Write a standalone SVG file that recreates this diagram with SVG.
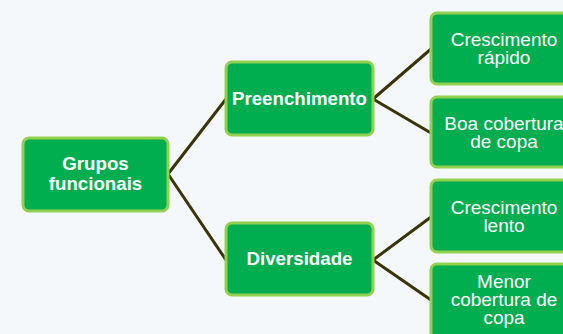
<svg xmlns="http://www.w3.org/2000/svg" width="563" height="334" viewBox="0 0 563 334">
<defs>
<style>
.node rect{fill:#00AD4F;stroke:#92D050;stroke-width:3}
.conn line{stroke:#3A3408;stroke-width:3;stroke-linecap:round}
text{font-family:"Liberation Sans",Arial,sans-serif;fill:#FFFFFF;text-anchor:middle}
.b{font-weight:bold;font-size:18.7px}
.r{font-size:19px}
</style>
</defs>
<rect x="0" y="0" width="563" height="334" fill="#F4F8FB"/>
<g class="conn" id="connectors">
<line x1="168" y1="174" x2="226" y2="99"/>
<line x1="168" y1="174" x2="226" y2="260"/>
<line x1="373" y1="99" x2="431" y2="49"/>
<line x1="373" y1="99" x2="431" y2="133"/>
<line x1="373" y1="260" x2="431" y2="217"/>
<line x1="373" y1="260" x2="431" y2="300"/>
</g>
<g class="node" id="grupos">
<rect x="23" y="138" width="145" height="73" rx="6"/>
<text class="b" x="95.5" y="170">Grupos</text>
<text class="b" x="95.5" y="190">funcionais</text>
</g>
<g class="node" id="preenchimento">
<rect x="226" y="62" width="147" height="73" rx="6"/>
<text class="b" x="299.5" y="105">Preenchimento</text>
</g>
<g class="node" id="diversidade">
<rect x="226" y="223" width="147" height="72" rx="6"/>
<text class="b" x="299.5" y="265">Diversidade</text>
</g>
<g class="node" id="crescimento-rapido">
<rect x="431" y="13" width="147" height="71" rx="6"/>
<text class="r" x="504" y="46">Crescimento</text>
<text class="r" x="504" y="63.5">rápido</text>
</g>
<g class="node" id="boa-cobertura">
<rect x="431" y="97" width="147" height="70" rx="6"/>
<text class="r" x="504" y="130">Boa cobertura</text>
<text class="r" x="504" y="148">de copa</text>
</g>
<g class="node" id="crescimento-lento">
<rect x="431" y="180" width="147" height="72" rx="6"/>
<text class="r" x="504" y="213.5">Crescimento</text>
<text class="r" x="504" y="231.5">lento</text>
</g>
<g class="node" id="menor-cobertura">
<rect x="431" y="264" width="147" height="90" rx="6"/>
<text class="r" x="504" y="287.5">Menor</text>
<text class="r" x="504" y="306">cobertura de</text>
<text class="r" x="504" y="324">copa</text>
</g>
</svg>
